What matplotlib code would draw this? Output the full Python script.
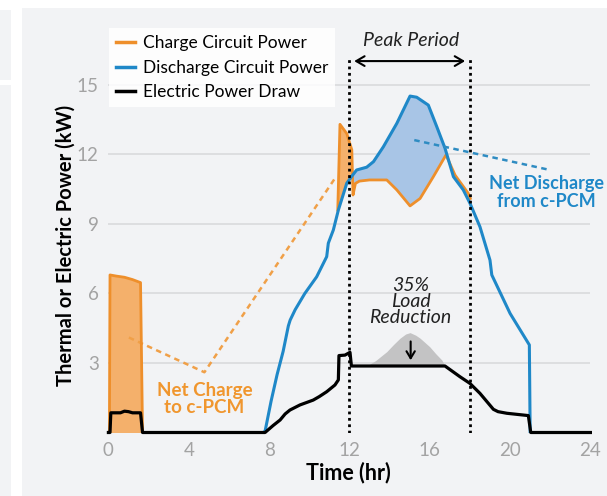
import matplotlib
matplotlib.use("Agg")
import matplotlib.pyplot as plt
import matplotlib.patches as mpatches
import numpy as np

plt.rcParams['font.family'] = ['Lato', 'DejaVu Sans']

# ---------------- data ----------------
charge_t1 = [0.05, 0.08, 0.4, 0.8, 1.2, 1.6, 1.7]
charge_p1 = [0.0, 6.8, 6.75, 6.7, 6.6, 6.47, 0.0]

charge_t2 = [11.42, 11.53, 11.87, 12.12, 12.18, 12.3, 12.5, 13.0, 13.86, 14.36,
             15.02, 15.52, 16.18, 16.81, 17.26, 17.92, 18.02]
charge_p2 = [9.6, 13.3, 12.9, 12.2, 10.25, 10.75, 10.85, 10.9, 10.9, 10.47,
             9.78, 10.1, 11.04, 11.98, 11.11, 10.32, 10.1]

discharge_t = [7.7, 7.8, 8.1, 8.4, 8.7, 8.96, 9.05, 9.3, 9.78, 10.37, 10.87, 10.95,
               11.2, 11.45, 11.87, 12.1, 12.36, 12.86, 13.2, 13.69, 14.36, 15.02,
               15.35, 15.93, 16.35, 16.76, 17.18, 17.67, 18.0, 18.5, 19.0, 19.09,
               20.0, 20.96, 21.0]
discharge_p = [0.0, 0.05, 1.35, 2.5, 3.5, 4.6, 4.85, 5.3, 6.0, 6.72, 7.59, 8.17,
               8.74, 9.6, 10.76, 11.04, 11.33, 11.45, 11.69, 12.33, 13.34, 14.52,
               14.47, 14.13, 13.2, 12.27, 11.04, 10.47, 9.9, 8.88, 7.44, 6.8,
               5.14, 3.78, 0.0]

elec_t = [0, 0.08, 0.12, 0.6, 0.8, 1.0, 1.2, 1.6, 1.7, 7.8, 8.2, 8.55, 8.8, 9.04,
          9.54, 10.2, 10.5, 10.87, 11.28, 11.45, 11.48, 11.78, 12.03, 12.1, 16.76,
          17.5, 18.0, 18.5, 19.17, 19.4, 19.84, 20.91, 21.03, 24]
elec_p = [0, 0, 0.85, 0.85, 0.92, 0.9, 0.85, 0.85, 0, 0, 0.3, 0.54, 0.8, 0.97,
          1.19, 1.4, 1.55, 1.76, 2.05, 2.27, 3.32, 3.34, 3.46, 2.87, 2.87,
          2.41, 2.12, 1.69, 1.0, 0.9, 0.83, 0.73, 0, 0]

base_t = [12.86, 13.3, 13.86, 14.2, 14.52, 14.8, 15.02, 15.3, 15.52, 16.0, 16.3, 16.6, 16.76]
base_p = [2.87, 3.1, 3.49, 3.8, 4.07, 4.25, 4.31, 4.2, 4.07, 3.7, 3.4, 3.13, 2.87]
peak_cap = 2.87

peak_start, peak_end = 12.0, 18.0

x_ticks = [0, 4, 8, 12, 16, 20, 24]
y_ticks = [3, 6, 9, 12, 15]

# annotation leader lines
note_charge_x = [1.02, 4.78, 11.28]
note_charge_y = [4.1, 2.6, 10.97]
note_dis_x = [15.23, 21.88]
note_dis_y = [12.62, 11.35]

# ---------------- style ----------------
ORANGE = '#ee8f2b'
ORANGE_FILL = '#f4b06b'
BLUE = '#1f88c8'
BLUE_FILL = '#a8c5e6'
GREY_FILL = '#c3c3c4'
BG = '#f2f3f5'
TICK = '#a3a3a3'
GRID = '#d9dadc'

W, H = 607, 496
fig = plt.figure(figsize=(W / 100, H / 100), dpi=100, facecolor='white')
# background panels
fig.patches.append(mpatches.Rectangle((22 / W, 0), 1, 1 - 8 / H, transform=fig.transFigure,
                                      facecolor=BG, edgecolor='none', zorder=-10))
fig.patches.append(mpatches.Rectangle((0, 1 - 80 / H), 11 / W, 70 / H, transform=fig.transFigure,
                                      facecolor=BG, edgecolor='none', zorder=-10))
fig.patches.append(mpatches.Rectangle((0, 0), 11 / W, 1 - 85 / H, transform=fig.transFigure,
                                      facecolor=BG, edgecolor='none', zorder=-10))

ymax = 17.5
ppk = 23.17
left = 108.4 / W
width = (590.4 - 108.4) / W
bottom = 1 - 432.5 / H
height = ymax * ppk / H
ax = fig.add_axes([left, bottom, width, height])
ax.set_facecolor('none')
ax.set_xlim(0, 24)
ax.set_ylim(0, ymax)
for s in ax.spines.values():
    s.set_visible(False)

ax.set_xticks(x_ticks)
ax.set_yticks(y_ticks)
ax.tick_params(length=0, labelsize=13.5, labelcolor=TICK, pad=7)
for y in y_ticks:
    ax.plot([0, 24], [y, y], color=GRID, lw=1.2, zorder=0)

ct1 = np.array(charge_t1); cp1 = np.array(charge_p1)
ct2 = np.array(charge_t2); cp2 = np.array(charge_p2)
dt = np.array(discharge_t); dp = np.array(discharge_p)

# fills
ax.fill_between(ct1, cp1, 0, color=ORANGE_FILL, lw=0, zorder=1)
mo = ct2 <= 12.12
mb = (dt >= 11.45) & (dt <= 12.1)
ax.fill(np.concatenate([ct2[mo], dt[mb][::-1]]), np.concatenate([cp2[mo], dp[mb][::-1]]),
        color=ORANGE_FILL, lw=0, zorder=1)
mb2 = (dt >= 12.1) & (dt <= 16.8)
mo2 = (ct2 >= 12.15) & (ct2 <= 16.81)
ax.fill(np.concatenate([dt[mb2], ct2[mo2][::-1]]), np.concatenate([dp[mb2], cp2[mo2][::-1]]),
        color=BLUE_FILL, lw=0, zorder=1)
ax.fill_between(base_t, base_p, peak_cap, color=GREY_FILL, lw=0, zorder=1)

# lines
ax.plot(ct1, cp1, color=ORANGE, lw=2, zorder=3)
ax.plot(ct2, cp2, color=ORANGE, lw=2, zorder=3)
ax.plot(dt, dp, color=BLUE, lw=2.2, zorder=4)
ax.plot(elec_t, elec_p, color='black', lw=2.3, zorder=5, clip_on=False)

# peak period markers
for xv in (peak_start, peak_end):
    ax.plot([xv, xv], [0, 16.1], color='black', lw=2, ls=(0, (1, 1.3)), zorder=6)
ax.annotate('', xy=(17.9, 16.03), xytext=(12.1, 16.03),
            arrowprops=dict(arrowstyle='<->,head_length=0.6,head_width=0.35', lw=1.5, color='black'))
ax.text(15.05, 16.9, 'Peak Period', ha='center', va='center', fontsize=14,
        style='italic', color='#222222')

# load reduction
ax.text(15.05, 5.66, '35%\nLoad\nReduction', ha='center', va='center', fontsize=14,
        style='italic', color='#222222', linespacing=0.92)
ax.annotate('', xy=(15.05, 3.0), xytext=(15.05, 4.05),
            arrowprops=dict(arrowstyle='->,head_length=0.5,head_width=0.3', lw=1.5, color='black'),
            zorder=7)

# leader lines and labels
ax.plot(note_charge_x, note_charge_y, color='#f0a048', lw=1.8, ls=(0, (2.2, 1.8)), zorder=2)
ax.plot(note_dis_x, note_dis_y, color='#2f8cc2', lw=1.8, ls=(0, (2.2, 1.8)), zorder=6,
        clip_on=False)
ax.text(4.78, 1.45, 'Net Charge\nto c-PCM', ha='center', va='center', fontsize=13.5,
        fontweight='bold', color='#f0962e', linespacing=1.05)
ax.text(21.8, 10.35, 'Net Discharge\nfrom c-PCM', ha='center', va='center', fontsize=13,
        fontweight='bold', color='#1f88c8', linespacing=1.05, clip_on=False)

ax.set_xlabel('Time (hr)', fontsize=15.5, fontweight='bold')
ax.set_ylabel('Thermal or Electric Power (kW)', fontsize=14.5, fontweight='bold')
ax.xaxis.set_label_coords((348 - 108.4) / 482, -(473 - 432.5) / 405.5)
ax.xaxis.label.set_va('center')
ax.yaxis.set_label_coords((66 - 108.4) / 482, (432.5 - 245.5) / 405.5)
ax.yaxis.label.set_va('center')

# legend
handles = [plt.Line2D([], [], color=ORANGE, lw=2.5),
           plt.Line2D([], [], color=BLUE, lw=2.5),
           plt.Line2D([], [], color='black', lw=2.5)]
labels = ['Charge Circuit Power', 'Discharge Circuit Power', 'Electric Power Draw']
leg = ax.legend(handles, labels, loc='upper left', bbox_to_anchor=(109 / W, 1 - 28 / H),
                bbox_transform=fig.transFigure, frameon=True, fancybox=False,
                fontsize=12.5, handlelength=1.1, handletextpad=0.45, labelspacing=0.5,
                borderpad=0.4, borderaxespad=0)
leg.get_frame().set_facecolor('white')
leg.get_frame().set_edgecolor('none')
leg.get_frame().set_alpha(0.85)
leg.set_zorder(10)

fig.savefig('out.png', dpi=100, facecolor=fig.get_facecolor())
